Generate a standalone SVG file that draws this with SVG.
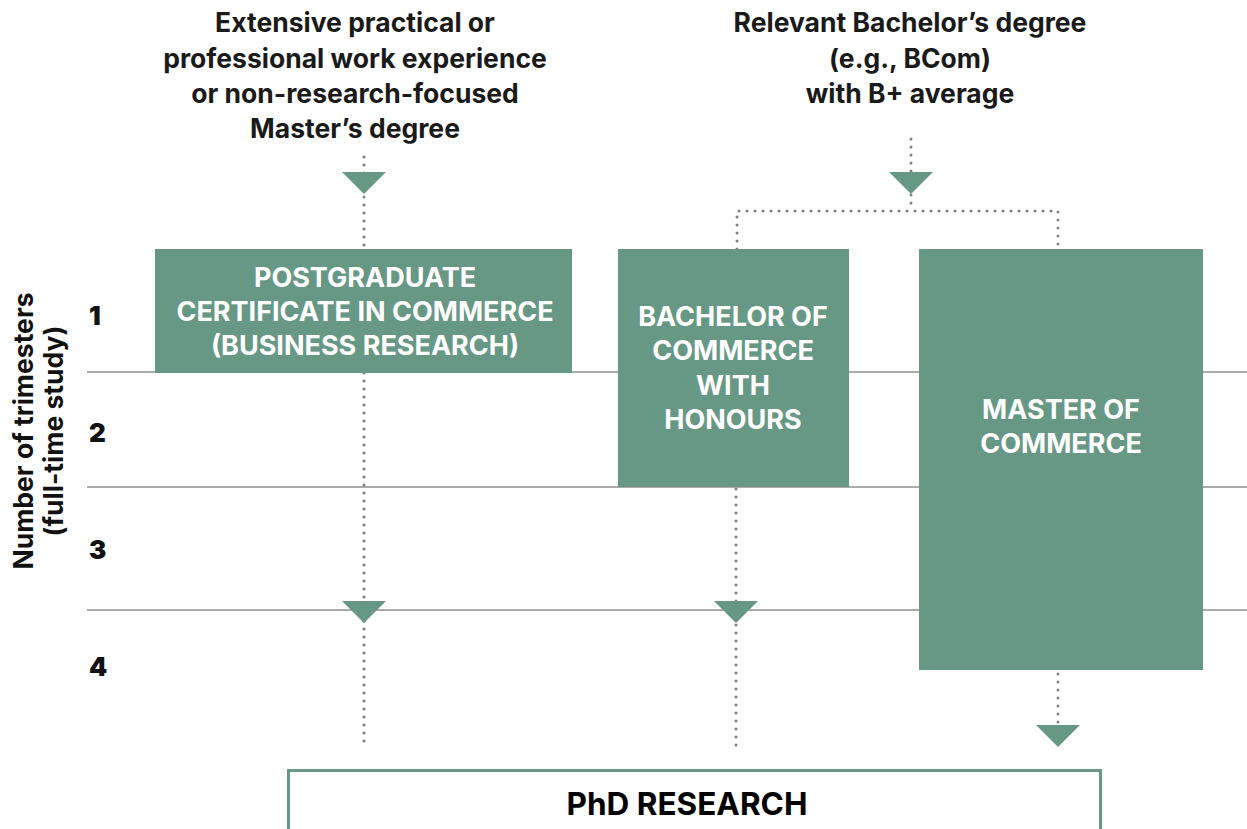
<svg xmlns="http://www.w3.org/2000/svg" width="1247" height="829" viewBox="0 0 1247 829">
<style>
.grid{stroke:#ababab;stroke-width:2;fill:none}
.box{fill:#679886}
.btxt{font-family:Inter,"Liberation Sans",sans-serif;font-weight:700;font-size:27px;fill:#fff;text-anchor:middle}
.top{font-family:Inter,"Liberation Sans",sans-serif;font-weight:700;font-size:26.5px;fill:#1a1a1a;text-anchor:middle}
.num{font-family:Inter,"Liberation Sans",sans-serif;font-weight:900;font-size:26px;fill:#111}
.axis{font-family:Inter,"Liberation Sans",sans-serif;font-weight:700;font-size:26.5px;fill:#111;text-anchor:middle}
.dot{stroke:#808080;stroke-width:3;stroke-linecap:round;stroke-dasharray:0 8;fill:none}
.arr{fill:#679886}
</style>
<rect width="1247" height="829" fill="#fff"/>
<g id="grid">
<line class="grid" x1="87" y1="372" x2="1247" y2="372"/>
<line class="grid" x1="87" y1="487" x2="1247" y2="487"/>
<line class="grid" x1="87" y1="610" x2="1247" y2="610"/>
</g>
<g id="axis">
<text class="axis" transform="translate(33,431) rotate(-90)">Number of trimesters</text>
<text class="axis" transform="translate(63,431) rotate(-90)">(full-time study)</text>
<text class="num" x="89" y="325">1</text>
<text class="num" x="89" y="442">2</text>
<text class="num" x="89" y="559">3</text>
<text class="num" x="89" y="676">4</text>
</g>
<g id="src-left">
<text class="top" x="355" y="32">Extensive practical or</text>
<text class="top" x="355" y="68">professional work experience</text>
<text class="top" x="355" y="103">or non-research-focused</text>
<text class="top" x="355" y="138">Master’s degree</text>
</g>
<g id="src-right">
<text class="top" x="910" y="32">Relevant Bachelor’s degree</text>
<text class="top" x="910" y="68">(e.g., BCom)</text>
<text class="top" x="910" y="103">with B+ average</text>
</g>
<g id="connectors">
<line class="dot" x1="364" y1="157" x2="364" y2="746"/>
<line class="dot" x1="736" y1="489" x2="736" y2="746"/>
<line class="dot" x1="911" y1="139" x2="911" y2="211"/>
<path class="dot" d="M737 249 V211 H1058 V249"/>
<line class="dot" x1="1058" y1="674" x2="1058" y2="724"/>
<polygon class="arr" points="342,172 386,172 364,194"/>
<polygon class="arr" points="889,172 933,172 911,194"/>
<polygon class="arr" points="342,601 386,601 364,623"/>
<polygon class="arr" points="714,601 758,601 736,623"/>
<polygon class="arr" points="1036,725 1080,725 1058,747"/>
</g>
<g id="pgcert">
<rect class="box" x="155" y="249" width="417" height="124"/>
<text class="btxt" x="365" y="287">POSTGRADUATE</text>
<text class="btxt" x="365" y="321">CERTIFICATE IN COMMERCE</text>
<text class="btxt" x="365" y="355">(BUSINESS RESEARCH)</text>
</g>
<g id="bcomhons">
<rect class="box" x="618" y="249" width="231" height="238"/>
<text class="btxt" x="733" y="326">BACHELOR OF</text>
<text class="btxt" x="733" y="360">COMMERCE</text>
<text class="btxt" x="733" y="395">WITH</text>
<text class="btxt" x="733" y="429">HONOURS</text>
</g>
<g id="mcom">
<rect class="box" x="919" y="249" width="284" height="421"/>
<text class="btxt" x="1061" y="419">MASTER OF</text>
<text class="btxt" x="1061" y="453">COMMERCE</text>
</g>
<g id="phd">
<rect x="288.5" y="770.5" width="812" height="70" fill="#fff" stroke="#679886" stroke-width="3"/>
<text x="687" y="815" font-family="Inter,'Liberation Sans',sans-serif" font-weight="700" font-size="31.5" fill="#000" text-anchor="middle">PhD RESEARCH</text>
</g>
</svg>
